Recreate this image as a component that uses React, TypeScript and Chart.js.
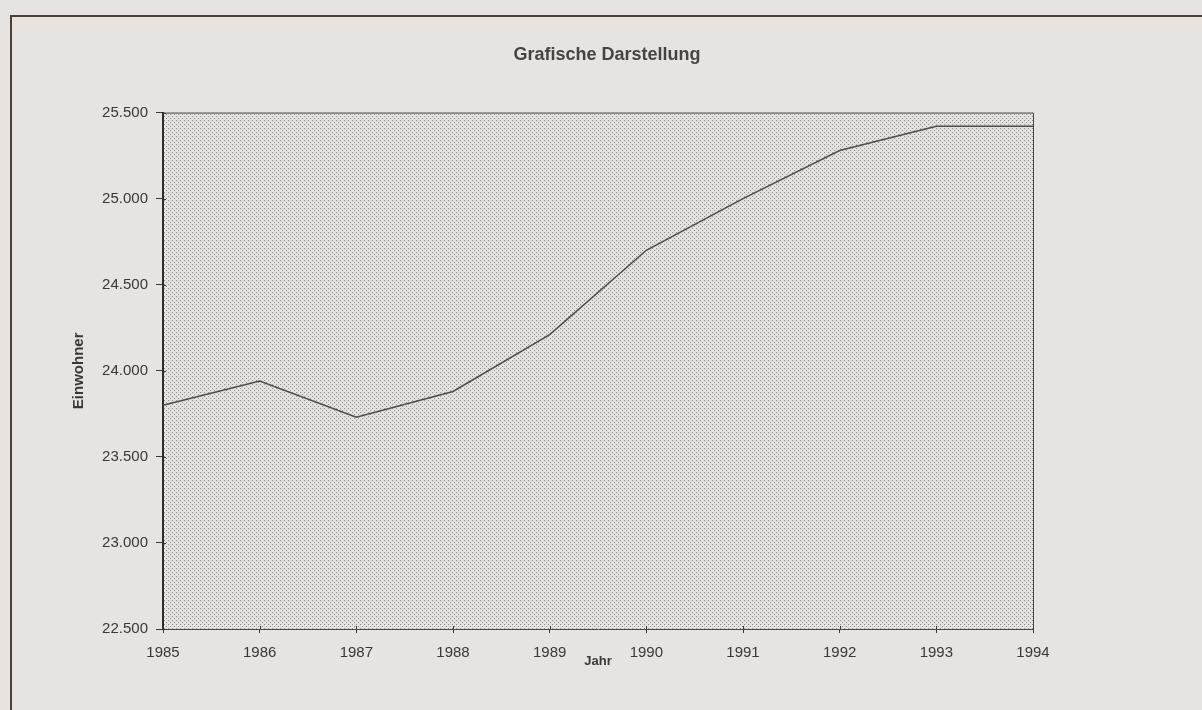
import React, { useEffect, useRef } from "react";
import { Chart, registerables } from "chart.js";

Chart.register(...registerables);

const chartTitle = "Grafische Darstellung";
const xAxisTitle = "Jahr";
const yAxisTitle = "Einwohner";
const years = ["1985", "1986", "1987", "1988", "1989", "1990", "1991", "1992", "1993", "1994"];
const einwohner = [23800, 23940, 23730, 23880, 24210, 24700, 25000, 25280, 25420, 25420];
const yMin = 22500;
const yMax = 25500;
const yStep = 500;

const fmt = (v: number) => String(v).replace(/\B(?=(\d{3})+(?!\d))/g, ".");

const FONT = "'Liberation Sans', Arial, sans-serif";

const plotPlugin = {
  id: "plotPlugin",
  beforeDraw(chart: any) {
    const { ctx, chartArea } = chart;
    const tile = document.createElement("canvas");
    tile.width = 4;
    tile.height = 4;
    const t = tile.getContext("2d")!;
    t.fillStyle = "#e4e1de";
    t.fillRect(0, 0, 4, 4);
    t.fillStyle = "#8e8a87";
    t.fillRect(0, 0, 1, 1);
    t.fillRect(2, 2, 1, 1);
    const pat = ctx.createPattern(tile, "repeat");
    ctx.save();
    ctx.fillStyle = pat;
    ctx.fillRect(chartArea.left, chartArea.top, chartArea.right - chartArea.left, chartArea.bottom - chartArea.top);
    ctx.restore();
  },
  afterDraw(chart: any) {
    const { ctx, chartArea } = chart;
    ctx.save();
    ctx.strokeStyle = "#4a4643";
    ctx.lineWidth = 1;
    ctx.beginPath();
    ctx.moveTo(chartArea.left, chartArea.top + 0.5);
    ctx.lineTo(chartArea.right + 0.5, chartArea.top + 0.5);
    ctx.lineTo(chartArea.right + 0.5, chartArea.bottom);
    ctx.stroke();
    // small inner tick marks (cross style)
    ctx.strokeStyle = "#3a3735";
    const ys = chart.scales.y;
    ys.ticks.forEach((tk: any) => {
      const py = Math.round(ys.getPixelForValue(tk.value)) + 0.5;
      ctx.beginPath();
      ctx.moveTo(chartArea.left, py);
      ctx.lineTo(chartArea.left + 3, py);
      ctx.stroke();
    });
    const xs = chart.scales.x;
    xs.ticks.forEach((_tk: any, i: number) => {
      const px = Math.round(xs.getPixelForTick(i)) + 0.5;
      ctx.beginPath();
      ctx.moveTo(px, chartArea.bottom);
      ctx.lineTo(px, chartArea.bottom - 3);
      ctx.stroke();
    });
    ctx.restore();
  },
};

export default function App() {
  const ref = useRef<HTMLCanvasElement>(null);
  useEffect(() => {
    if (!ref.current) return;
    const chart = new Chart(ref.current, {
      type: "line",
      data: {
        labels: years,
        datasets: [
          {
            data: einwohner,
            borderColor: "#4e4a47",
            borderWidth: 1.5,
            pointRadius: 0,
            tension: 0,
            fill: false,
          },
        ],
      },
      options: {
        animation: false,
        responsive: false,
        layout: { padding: { left: 12, right: 0, top: 0, bottom: 0 }, autoPadding: false },
        plugins: {
          legend: { display: false },
          tooltip: { enabled: false },
          title: {
            display: true,
            text: chartTitle,
            color: "#464340",
            font: { family: FONT, size: 18, weight: "bold" },
            padding: { top: 44, bottom: 47 },
          },
        },
        scales: {
          x: {
            type: "category",
            offset: false,
            afterFit: (s: any) => {
              s.height = 81;
            },
            grid: {
              drawOnChartArea: false,
              drawTicks: true,
              tickLength: 4,
              color: "#3a3735",
            },
            border: { display: true, color: "#4a4643", width: 1 },
            ticks: {
              color: "#3a3735",
              font: { family: FONT, size: 15 },
              padding: 11,
              maxRotation: 0,
              autoSkip: false,
            },
            title: {
              display: true,
              text: xAxisTitle,
              color: "#3a3735",
              font: { family: FONT, size: 13, weight: "bold" },
              padding: { top: 0, bottom: 41 },
            },
          },
          y: {
            min: yMin,
            max: yMax,
            afterFit: (s: any) => {
              s.width = 151;
            },
            grid: {
              drawOnChartArea: false,
              drawTicks: true,
              tickLength: 7,
              color: "#3a3735",
            },
            border: { display: true, color: "#2e2b29", width: 2 },
            ticks: {
              stepSize: yStep,
              color: "#3a3735",
              font: { family: FONT, size: 15 },
              padding: 8,
              callback: (v: any) => fmt(Number(v)),
            },
            title: {
              display: true,
              text: yAxisTitle,
              color: "#3a3735",
              font: { family: FONT, size: 15, weight: "bold" },
              padding: { top: 58, bottom: 0 },
            },
          },
          yRight: {
            position: "right",
            display: true,
            afterFit: (s: any) => {
              s.width = 169;
            },
            grid: { display: false, drawTicks: false },
            border: { display: false },
            ticks: { display: false },
          },
        },
      } as any,
      plugins: [plotPlugin],
    });
    return () => chart.destroy();
  }, []);

  return (
    <div style={{ position: "fixed", left: 0, top: 0, width: 1202, height: 710, background: "#e6e3e0", overflow: "hidden" }}>
      <div
        style={{
          position: "absolute",
          left: 10,
          top: 15,
          width: 1300,
          height: 800,
          borderLeft: "2px solid #4a4038",
          borderTop: "2px solid #4a4038",
        }}
      />
      <canvas ref={ref} width={1202} height={710} style={{ position: "absolute", left: 0, top: 0, width: 1202, height: 710 }} />
    </div>
  );
}
